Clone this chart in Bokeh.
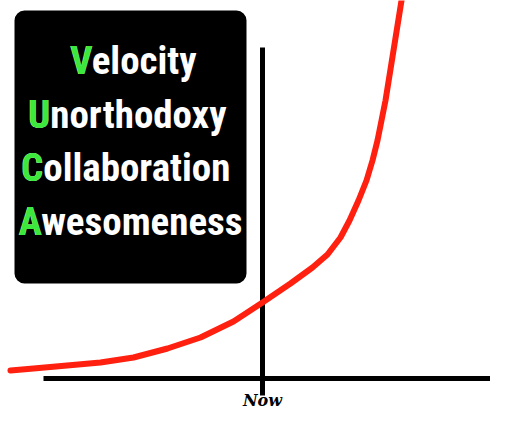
from bokeh.plotting import figure
from bokeh.models import Range1d, BoxAnnotation
from bokeh.core.properties import value
from bokeh.embed import file_html
from bokeh.resources import INLINE

# ---- data (time in units relative to "Now", growth above the baseline) ----
time = [-25.2, -22.9, -16.2, -12.9, -9.5, -6.2, -2.9, 0.0, 2.8, 5.0, 6.5, 7.8,
        8.7, 9.6, 10.4, 11.0, 11.5, 11.9, 12.3, 13.1, 13.9, 14.1]
growth = [0.8, 1.0, 1.6, 2.1, 3.0, 4.1, 5.7, 7.6, 9.5, 11.1, 12.4, 14.1,
          15.8, 17.8, 19.8, 21.8, 23.8, 25.8, 27.8, 32.8, 37.8, 39.0]
words = ["Velocity", "Unorthodoxy", "Collaboration", "Awesomeness"]
now_label = "Now"

# ---- layout ----
word_left = [-19.25, -23.45, -24.15, -24.4]
word_base = [31.8, 26.4, 21.1, 15.7]

p = figure(width=490, height=412, output_backend="svg", toolbar_location=None,
           x_range=Range1d(-26.2, 22.8), y_range=Range1d(-3.4, 37.8),
           min_border=0, outline_line_color=None, background_fill_color="white",
           border_fill_color="white")
p.xaxis.visible = False
p.yaxis.visible = False
p.xgrid.visible = False
p.ygrid.visible = False

box = BoxAnnotation(left=-24.8, right=-1.6, top=36.8, bottom=9.5,
                    fill_color="black", fill_alpha=1.0, line_color=None,
                    border_radius=10, level="underlay")
p.add_layout(box)

font = value("'Roboto Condensed', 'Liberation Sans Narrow', 'DejaVu Sans Condensed', sans-serif")
p.text(x=word_left, y=word_base, text=words, text_color="white",
       text_font=font, text_font_style="bold", text_font_size="39px",
       text_align="left", text_baseline="alphabetic")
p.text(x=word_left, y=word_base, text=[w[0] for w in words], text_color="#3de83d",
       text_font=font, text_font_style="bold", text_font_size="39px",
       text_align="left", text_baseline="alphabetic")

# axes of the sketch
p.segment(x0=[-21.9], y0=[0], x1=[25.0], y1=[0], line_color="black", line_width=5)
p.segment(x0=[0], y0=[33.1], x1=[0], y1=[-1.7], line_color="black", line_width=5)

p.line(time, growth, line_color="#ff2010", line_width=6, line_join="round",
       line_cap="round")

p.text(x=[0], y=[-2.2], text=[now_label], text_color="black",
       text_font=value("DejaVu Serif"), text_font_style="bold italic",
       text_font_size="16px", text_align="center", text_baseline="alphabetic")

open("out.html", "w").write(file_html(p, INLINE))
